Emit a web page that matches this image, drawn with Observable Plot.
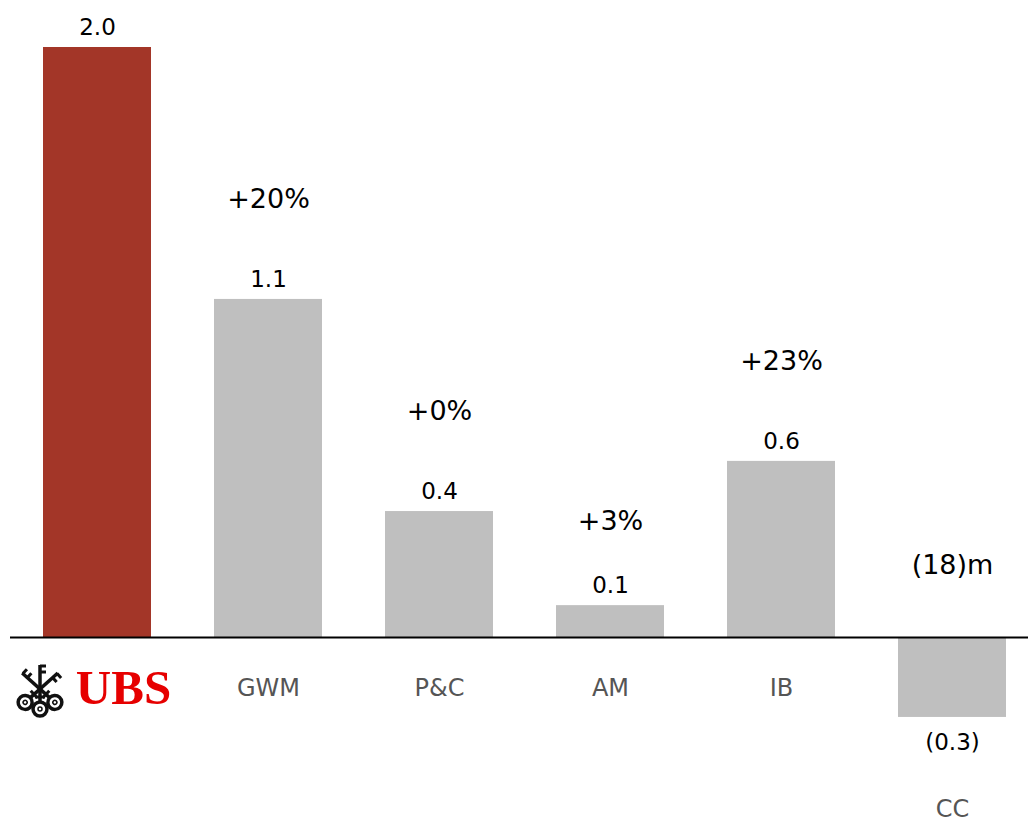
<!DOCTYPE html>
<html>
<head>
<meta charset="utf-8">
<script src="https://cdn.jsdelivr.net/npm/d3@7"></script>
<script src="https://cdn.jsdelivr.net/npm/@observablehq/plot@0.6"></script>
<style>
  html, body { margin: 0; padding: 0; background: #fff; }
  #chart svg { display: block; }
</style>
</head>
<body>
<div id="chart"></div>
<script>
const categories = ["UBS", "GWM", "P&C", "AM", "IB", "CC"];
const values = [2.0, 1.146, 0.427, 0.108, 0.597, -0.271];
const valueLabels = ["2.0", "1.1", "0.4", "0.1", "0.6", "(0.3)"];
const changeLabels = ["", "+20%", "+0%", "+3%", "+23%", "(18)m"];

const data = categories.map((c, i) => ({
  cat: c, value: values[i], label: valueLabels[i], change: changeLabels[i]
}));

const font = "'DejaVu Sans', sans-serif";
const pos = data.filter(d => d.value >= 0);
const neg = data.filter(d => d.value < 0);
const chgBig = data.filter(d => d.change && d.value > 0.3);
const chgAM = data.filter(d => d.cat === "AM");
const chgCC = data.filter(d => d.cat === "CC");

const plot = Plot.plot({
  width: 1028,
  height: 827,
  marginLeft: 10,
  marginRight: 0,
  marginTop: 0,
  marginBottom: 0,
  x: { domain: categories, range: [11.5, 1038], paddingInner: 0.37, paddingOuter: 0.185, axis: null },
  y: { domain: [-0.65, 2.1], range: [828.75, 17.5], axis: null },
  style: { fontFamily: font, background: "#fff" },
  marks: [
    Plot.barY(data, { x: "cat", y: "value", fill: d => d.cat === "UBS" ? "#A33628" : "#BFBFBF" }),
    Plot.ruleY([0], { stroke: "#000", strokeWidth: 2 }),
    Plot.text(pos, { x: "cat", y: "value", text: "label", dy: -20, fontSize: 23, fill: "#000" }),
    Plot.text(neg, { x: "cat", y: "value", text: "label", dy: 25, fontSize: 23, fill: "#000" }),
    Plot.text(chgBig, { x: "cat", y: "value", text: "change", dy: -100, fontSize: 27, fill: "#000" }),
    Plot.text(chgAM, { x: "cat", y: "value", text: "change", dy: -84, fontSize: 27, fill: "#000" }),
    Plot.text(chgCC, { x: "cat", y: 0, text: "change", dy: -72, fontSize: 27, fill: "#000" }),
    Plot.text(data.filter(d => d.cat !== "UBS" && d.value >= 0), { x: "cat", y: 0, text: "cat", dy: 51, fontSize: 24, fill: "#555" }),
    Plot.text(neg, { x: "cat", y: "value", text: "cat", dy: 92, fontSize: 24, fill: "#555" }),
    Plot.text(data.filter(d => d.cat === "UBS"), { x: "cat", y: 0, text: "cat", dy: 51, dx: 26, fontSize: 49, fontWeight: "bold", fill: "#E60000", fontFamily: "'Liberation Serif', serif" })
  ]
});

document.getElementById("chart").appendChild(plot);

// UBS keys emblem (decorative logo)
const svg = d3.select(plot);
const g = svg.append("g").attr("transform", "translate(40,689)").attr("stroke", "#111").attr("fill", "none");
[0, -48, 48].forEach(a => {
  const k = g.append("g").attr("transform", `rotate(${a})`);
  k.append("line").attr("x1", 0).attr("y1", -24).attr("x2", 0).attr("y2", 14).attr("stroke-width", 3.5);
  k.append("circle").attr("cx", 0).attr("cy", 20).attr("r", 7).attr("stroke-width", 3.5);
  k.append("circle").attr("cx", 0).attr("cy", 20).attr("r", 2).attr("stroke-width", 1.5);
  k.append("line").attr("x1", 0).attr("y1", -23).attr("x2", 6).attr("y2", -23).attr("stroke-width", 3);
  k.append("line").attr("x1", 0).attr("y1", -17).attr("x2", 6).attr("y2", -17).attr("stroke-width", 3);
  k.append("line").attr("x1", -5).attr("y1", 8).attr("x2", 5).attr("y2", 8).attr("stroke-width", 3);
});
</script>
</body>
</html>
